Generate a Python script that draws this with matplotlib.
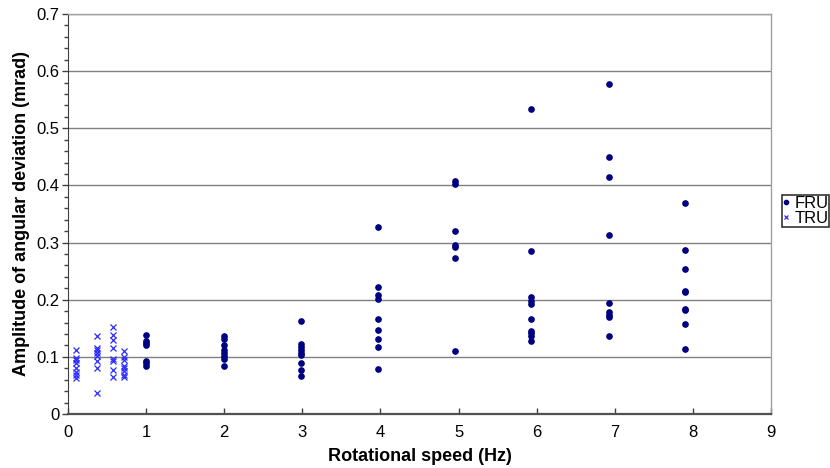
import matplotlib

matplotlib.use("Agg")
import matplotlib.pyplot as plt
from matplotlib.ticker import MultipleLocator

plt.rcParams["font.family"] = ["Liberation Sans", "DejaVu Sans"]

# FRU: one column of repeated measurements per rotational speed
fru_speed = [1.0, 2.0, 2.98, 3.97, 4.95, 5.93, 6.92, 7.9]
fru_amp = [
    [0.138, 0.128, 0.124, 0.120, 0.093, 0.089, 0.084],
    [0.137, 0.132, 0.121, 0.112, 0.107, 0.101, 0.096, 0.084],
    [0.162, 0.123, 0.118, 0.112, 0.107, 0.103, 0.090, 0.077, 0.067],
    [0.328, 0.223, 0.208, 0.201, 0.167, 0.147, 0.132, 0.117, 0.078],
    [0.407, 0.402, 0.320, 0.296, 0.292, 0.273, 0.111],
    [0.534, 0.285, 0.204, 0.198, 0.192, 0.167, 0.146, 0.141, 0.137, 0.127],
    [0.578, 0.450, 0.414, 0.314, 0.194, 0.179, 0.174, 0.169, 0.137],
    [0.369, 0.287, 0.254, 0.216, 0.213, 0.184, 0.182, 0.158, 0.114],
]

# TRU: low speed range
tru_speed = [0.1, 0.37, 0.57, 0.72]
tru_amp = [
    [0.112, 0.098, 0.095, 0.090, 0.080, 0.074, 0.068, 0.063],
    [0.137, 0.116, 0.112, 0.106, 0.101, 0.092, 0.080, 0.037],
    [0.153, 0.139, 0.130, 0.115, 0.097, 0.092, 0.077, 0.064],
    [0.111, 0.100, 0.094, 0.084, 0.080, 0.076, 0.069, 0.064],
]


def flatten(speeds, amps):
    xs, ys = [], []
    for s, col in zip(speeds, amps):
        xs.extend([s] * len(col))
        ys.extend(col)
    return xs, ys


def main() -> None:
    fig = plt.figure(figsize=(8.3, 4.68), dpi=100)
    ax = fig.add_axes([68 / 830, 1 - 414 / 468, (771 - 68) / 830, (414 - 14) / 468])

    fx, fy = flatten(fru_speed, fru_amp)
    tx, ty = flatten(tru_speed, tru_amp)
    ax.plot(fx, fy, "o", color="#000080", markersize=3.8, linestyle="none", label="FRU", zorder=3)
    ax.plot(tx, ty, "x", color="#2a2aff", markersize=4, markeredgewidth=0.9, linestyle="none",
            label="TRU", zorder=3)

    ax.set_xlim(0, 9)
    ax.set_ylim(0, 0.7)
    ax.xaxis.set_major_locator(MultipleLocator(1))
    ax.yaxis.set_minor_locator(MultipleLocator(0.02))
    ax.set_yticks([0, 0.1, 0.2, 0.3, 0.4, 0.5, 0.6, 0.7])
    ax.set_yticklabels(["0", "0.1", "0.2", "0.3", "0.4", "0.5", "0.6", "0.7"])

    ax.grid(axis="y", which="major", color="#808080", linewidth=1.0)
    ax.set_axisbelow(True)
    for side in ("top", "right"):
        ax.spines[side].set_color("#a0a0a0")
        ax.spines[side].set_linewidth(1.0)
    ax.spines["left"].set_color("#404040")
    ax.spines["bottom"].set_color("#505050")
    ax.spines["bottom"].set_linewidth(1.6)

    ax.tick_params(axis="y", which="major", direction="out", length=4, width=1, color="#404040",
                   labelsize=12, pad=2)
    ax.tick_params(axis="y", which="minor", direction="out", length=3, width=1, color="#404040")
    ax.tick_params(axis="x", which="major", direction="in", length=4, width=1, color="#404040",
                   labelsize=12, pad=8)

    ax.set_xlabel("Rotational speed (Hz)", fontsize=13, fontweight="bold", labelpad=6)
    ax.set_ylabel("Amplitude of angular deviation (mrad)", fontsize=13, fontweight="bold",
                  labelpad=5)

    leg = fig.legend(loc="upper left", bbox_to_anchor=(782 / 830, 1 - 195 / 468), fontsize=12,
                     frameon=True, fancybox=False, edgecolor="black", handlelength=0.4,
                     handletextpad=0.3, borderpad=0.05, labelspacing=0.0, borderaxespad=0,
                     markerscale=0.8)
    leg.get_frame().set_linewidth(1.2)

    fig.savefig("out.png", dpi=100)
    plt.close(fig)


if __name__ == "__main__":
    main()
